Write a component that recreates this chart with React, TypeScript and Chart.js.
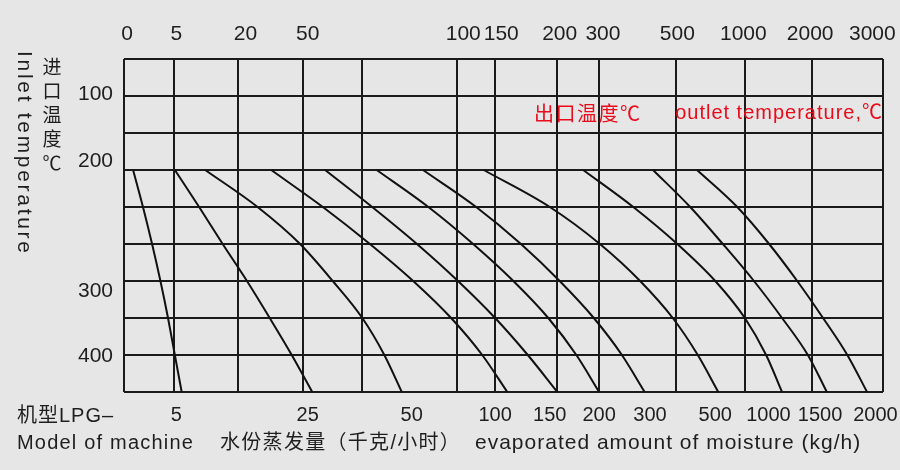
import React, { useEffect, useRef } from "react";
import { Chart, registerables } from "chart.js";

Chart.register(...registerables);

// ---- data (x in chart units 0..100 across the grid, y in grid rows 0..9 from the top) ----
const rowLevels = [3, 4, 5, 6, 7, 8, 9];

const modelNames = ["5", "25", "50", "100", "150", "200", "300", "500", "1000", "1500", "2000"];

const curve5 = [1.2, 2.5, 3.7, 4.8, 5.8, 6.7, 7.6];
const curve25 = [6.7, 9.9, 13.0, 16.2, 19.2, 22.1, 24.8];
const curve50 = [10.7, 17.6, 23.2, 27.5, 31.4, 34.3, 36.6];
const curve100 = [19.4, 26.2, 32.4, 38.1, 43.1, 47.2, 50.5];
const curve150 = [26.5, 32.7, 38.6, 44.0, 48.9, 53.2, 57.1];
const curve200 = [33.3, 40.1, 46.0, 51.3, 55.9, 59.6, 62.6];
const curve300 = [39.4, 46.4, 52.3, 57.4, 61.9, 65.6, 68.6];
const curve500 = [47.4, 56.1, 62.7, 68.0, 72.3, 75.6, 78.3];
const curve1000 = [60.5, 67.1, 72.9, 77.9, 81.8, 84.6, 86.7];
const curve1500 = [69.7, 74.6, 78.9, 83.0, 86.7, 90.1, 92.6];
const curve2000 = [75.5, 80.8, 85.0, 88.7, 92.1, 95.3, 97.9];

const curves = [
  curve5, curve25, curve50, curve100, curve150, curve200,
  curve300, curve500, curve1000, curve1500, curve2000,
];

// vertical grid lines of the nomogram (chart units)
const gridStops = [0, 6.6, 15.0, 23.6, 31.4, 43.9, 48.9, 57.0, 62.6, 72.7, 81.8, 90.6, 100];

// top scale (outlet temperature)
const topLabels = ["0", "5", "20", "50", "100", "150", "200", "300", "500", "1000", "2000", "3000"];
const topLabelStops = [0.4, 6.9, 16.0, 24.2, 44.7, 49.7, 57.4, 63.1, 72.9, 81.6, 90.4, 98.6];

// bottom scale (machine model)
const modelLabelStops = [6.9, 24.2, 37.9, 48.9, 56.1, 62.6, 69.3, 77.9, 84.9, 91.7, 99.0];

// left scale (inlet temperature)
const inletLabels = ["100", "200", "300", "400"];
const inletLabelRows = [0.96, 2.76, 6.27, 8.03];

const rowCount = 9;

// ---- styling ----
const BG = "#e6e6e6";
const LINE = "#1a1a1a";
const TEXT = "#1e1e1e";
const RED = "#ea0a1a";
const FONT = '"Liberation Sans", Arial, Helvetica, "Noto Sans CJK SC", sans-serif';
const CJK = '"Noto Sans CJK SC", "Liberation Sans", sans-serif';

const fixTicks = (values: number[]) => (scale: any) => {
  scale.ticks = values.map((v) => ({ value: v }));
};

const fixSize = (size: number, horizontal: boolean) => (scale: any) => {
  if (horizontal) scale.height = size;
  else scale.width = size;
  scale.paddingLeft = 0;
  scale.paddingRight = 0;
  scale.paddingTop = 0;
  scale.paddingBottom = 0;
};

const decorPlugin = {
  id: "decor",
  beforeDraw(chart: any) {
    const { ctx, width, height } = chart;
    ctx.save();
    ctx.fillStyle = BG;
    ctx.fillRect(0, 0, width, height);
    ctx.restore();
  },
  afterDraw(chart: any) {
    const { ctx, chartArea, scales } = chart;
    ctx.save();
    ctx.textBaseline = "middle";

    // red note
    const yRed = scales.y.getPixelForValue(1.5) - 1;
    ctx.fillStyle = RED;
    ctx.font = `20px ${CJK}`;
    (ctx as any).letterSpacing = "1.5px";
    ctx.textAlign = "left";
    ctx.fillText("出口温度℃", 534, yRed);
    ctx.font = `20px ${FONT}`;
    (ctx as any).letterSpacing = "1px";
    ctx.textAlign = "right";
    ctx.fillText("outlet temperature,℃", chartArea.right, yRed);

    // left titles
    ctx.fillStyle = TEXT;
    ctx.save();
    ctx.translate(24, 51);
    ctx.rotate(Math.PI / 2);
    ctx.textAlign = "left";
    ctx.font = `21px ${FONT}`;
    (ctx as any).letterSpacing = "2.7px";
    ctx.fillText("Inlet temperature", 0, 0);
    ctx.restore();

    ctx.font = `19px ${CJK}`;
    (ctx as any).letterSpacing = "0px";
    ctx.textAlign = "center";
    const vChars = ["进", "口", "温", "度", "℃"];
    vChars.forEach((c, i) => ctx.fillText(c, 52, 67 + i * 24));

    // bottom titles
    ctx.textAlign = "left";
    ctx.font = `20px ${FONT}`;
    (ctx as any).letterSpacing = "1px";
    ctx.fillText("机型LPG–", 17, 416);
    (ctx as any).letterSpacing = "1.2px";
    ctx.fillText("Model of machine", 17, 443);
    (ctx as any).letterSpacing = "1.3px";
    ctx.fillText("水份蒸发量（千克/小时）", 220, 443);
    (ctx as any).letterSpacing = "1px";
    ctx.font = `21px ${FONT}`;
    ctx.fillText("evaporated amount of moisture (kg/h)", 475, 443);
    ctx.restore();
  },
};

export default function App() {
  const canvasRef = useRef<HTMLCanvasElement | null>(null);

  useEffect(() => {
    const canvas = canvasRef.current;
    if (!canvas) return;

    const rowGrid = Array.from({ length: rowCount + 1 }, (_, i) => i);

    const chart = new Chart(canvas, {
      type: "line",
      data: {
        datasets: curves.map((xs, k) => ({
          label: modelNames[k],
          data: xs.map((x, i) => ({ x, y: rowLevels[i] })),
          xAxisID: "x",
          yAxisID: "y",
          borderColor: "#111111",
          borderWidth: 2,
          pointRadius: 0,
          cubicInterpolationMode: "monotone",
          fill: false,
        })),
      },
      options: {
        responsive: false,
        animation: false,
        devicePixelRatio: 1,
        layout: { padding: { top: 0, right: 17, bottom: 0, left: 0 } },
        plugins: {
          legend: { display: false },
          tooltip: { enabled: false },
          title: { display: false },
        },
        scales: {
          x: {
            type: "linear",
            position: "bottom",
            min: 0,
            max: 100,
            afterBuildTicks: fixTicks(gridStops),
            afterFit: fixSize(0, true),
            ticks: { display: false },
            grid: { color: LINE, lineWidth: 2, drawTicks: false },
            border: { display: false },
          },
          xTop: {
            type: "linear",
            position: "top",
            min: 0,
            max: 100,
            afterBuildTicks: fixTicks(topLabelStops),
            afterFit: fixSize(59, true),
            grid: { display: false, drawTicks: false },
            border: { display: false },
            ticks: {
              autoSkip: false,
              maxRotation: 0,
              minRotation: 0,
              padding: 12,
              color: TEXT,
              font: { family: FONT, size: 21 },
              callback: (_v: any, i: number) => topLabels[i],
            },
          },
          xModel: {
            type: "linear",
            position: "bottom",
            min: 0,
            max: 100,
            afterBuildTicks: fixTicks(modelLabelStops),
            afterFit: fixSize(78, true),
            grid: { display: false, drawTicks: false },
            border: { display: false },
            ticks: {
              autoSkip: false,
              maxRotation: 0,
              minRotation: 0,
              padding: 11,
              color: TEXT,
              font: { family: FONT, size: 20 },
              callback: (_v: any, i: number) => modelNames[i],
            },
          },
          y: {
            type: "linear",
            position: "left",
            reverse: true,
            min: 0,
            max: rowCount,
            afterBuildTicks: fixTicks(rowGrid),
            afterFit: fixSize(0, false),
            ticks: { display: false },
            grid: { color: LINE, lineWidth: 2, drawTicks: false },
            border: { display: false },
          },
          yIn: {
            type: "linear",
            position: "left",
            reverse: true,
            min: 0,
            max: rowCount,
            afterBuildTicks: fixTicks(inletLabelRows),
            afterFit: fixSize(124, false),
            grid: { display: false, drawTicks: false },
            border: { display: false },
            ticks: {
              autoSkip: false,
              padding: 11,
              color: TEXT,
              font: { family: FONT, size: 21 },
              callback: (_v: any, i: number) => inletLabels[i],
            },
          },
        },
      } as any,
      plugins: [decorPlugin],
    });

    return () => chart.destroy();
  }, []);

  return (
    <div
      style={{
        position: "fixed",
        left: 0,
        top: 0,
        width: 900,
        height: 470,
        background: BG,
        overflow: "hidden",
      }}
    >
      <canvas
        ref={canvasRef}
        width={900}
        height={470}
        style={{ display: "block", width: 900, height: 470 }}
      />
    </div>
  );
}
